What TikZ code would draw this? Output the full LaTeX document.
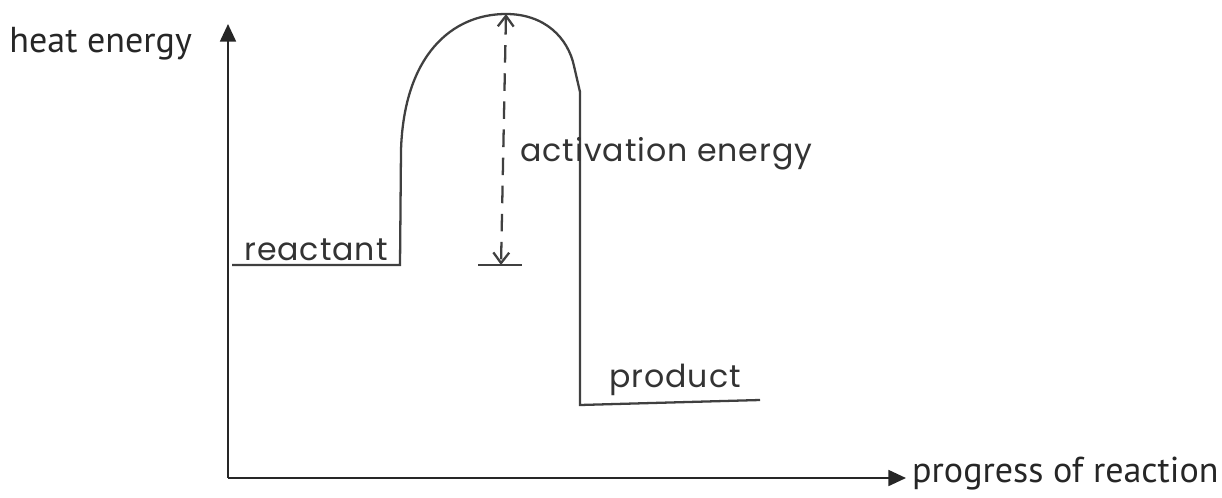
\documentclass[tikz,border=0pt]{standalone}
\usepackage{fontspec}
\setmainfont{PT Sans}
\newfontfamily\handfont[LetterSpace=3]{Poppins}
\usetikzlibrary{arrows.meta}

\begin{document}
\begin{tikzpicture}[
    x=0.02cm, y=-0.02cm,
    axis/.style={line width=1.3pt, draw=black!85, -{Triangle[length=10pt,width=9pt]}},
    curve/.style={line width=1.3pt, draw=black!75},
    axislabel/.style={font=\fontsize{20.5}{24}\selectfont, text=black!85},
    hand/.style={font=\handfont\fontsize{18}{21}\selectfont, text=black!80, inner sep=0pt}
]
\useasboundingbox (0,0) rectangle (1222,497);

% Axes
\coordinate (origin) at (228,478);
\coordinate (ytip) at (228,24);
\coordinate (xtip) at (906,478);
\draw[axis] (origin) -- (ytip);
\draw[axis] (origin) -- (xtip);

\node[axislabel,anchor=east] (ylab) at (198,44) {heat energy};
\node[axislabel,anchor=west] (xlab) at (906,474) {progress of reaction};

% Energy profile
\coordinate (rstart) at (232,265);
\coordinate (rend) at (400,265);
\coordinate (peak) at (506,14);
\coordinate (pstart) at (580,405);
\coordinate (pend) at (760,400);
\draw[curve] (rstart) -- (rend) -- (401,150)
    .. controls (404,55) and (452,14) .. (peak)
    .. controls (545,14) and (568,38) .. (574,66)
    -- (580,92) -- (pstart) -- (pend);

\node[hand,anchor=south west] (reactant) at (244,261) {reactant};
\node[hand,anchor=south west] (product) at (609,396) {product};

% Activation energy
\coordinate (base) at (501,265);
\draw[curve] (478,265) -- (522,265);
\draw[curve, dashed, dash pattern=on 10pt off 6pt,
    {Straight Barb[length=6pt,width=9pt]}-{Straight Barb[length=6pt,width=9pt]}]
    (peak) -- (base);
\node[hand,anchor=west] (actlab) at (520,154) {activation energy};

\end{tikzpicture}
\end{document}
